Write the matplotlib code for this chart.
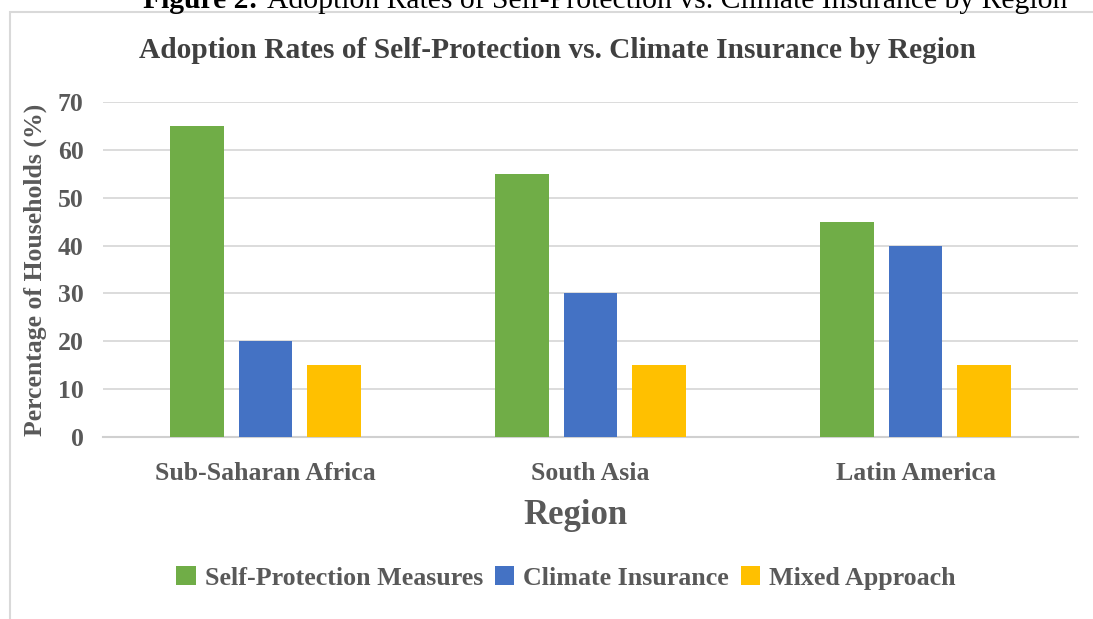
import matplotlib
matplotlib.use("Agg")
import matplotlib.pyplot as plt
from matplotlib.patches import Rectangle
import numpy as np

regions = ["Sub-Saharan Africa", "South Asia", "Latin America"]
series_names = ["Self-Protection Measures", "Climate Insurance", "Mixed Approach"]
self_protection = [65, 55, 45]
climate_insurance = [20, 30, 40]
mixed_approach = [15, 15, 15]
yticks = [0, 10, 20, 30, 40, 50, 60, 70]

COLORS = ["#70AD47", "#4472C4", "#FFC000"]
TXT = "#595959"
SERIF = "Liberation Serif"

W, H = 1093, 619
fig = plt.figure(figsize=(W / 100, H / 100), dpi=100)
fig.patch.set_facecolor("white")

# chart frame (screenshot of an embedded chart)
fig.patches.append(Rectangle((10 / W, -0.1), 1.2, 1 - 12 / H + 0.1,
                             transform=fig.transFigure, fill=False,
                             edgecolor="#d9d9d9", linewidth=1.5))

# document caption, cut off by the top edge as in the screenshot
fx, fy = 143 / W, 1 - 8.5 / H
t1 = fig.text(fx, fy, "Figure 2:", fontfamily=SERIF, fontweight="bold",
              fontsize=21.3, color="black", va="baseline", ha="left")
r = fig.canvas.get_renderer()
bb = t1.get_window_extent(r)
fig.text((bb.x1 + 9) / W, fy, "Adoption Rates of Self-Protection vs. Climate Insurance by Region",
         fontfamily=SERIF, fontsize=21.3, color="black", va="baseline", ha="left")

ax = fig.add_axes([103 / W, 1 - 437 / H, (1078 - 103) / W, (437 - 102) / H])
x = np.arange(len(regions))
w = 0.166
step = 0.21
for i, (vals, c, name) in enumerate(zip([self_protection, climate_insurance, mixed_approach],
                                        COLORS, series_names)):
    ax.bar(x + (i - 1) * step, vals, w, color=c, label=name, zorder=3)

ax.set_xlim(-0.5, len(regions) - 0.5)
ax.set_ylim(0, 70)
ax.set_yticks(yticks)
ax.set_xticks(x)
ax.set_xticklabels(regions)
ax.grid(axis="y", color="#d9d9d9", linewidth=1.3, zorder=0)
for s in ["top", "right", "left"]:
    ax.spines[s].set_visible(False)
ax.spines["bottom"].set_color("#d0d0d0")
ax.spines["bottom"].set_linewidth(1.5)
ax.tick_params(length=0)
ax.tick_params(axis="y", pad=14)
ax.tick_params(axis="x", pad=18)
for lab in ax.get_xticklabels() + ax.get_yticklabels():
    lab.set_fontfamily(SERIF)
    lab.set_fontweight("bold")
    lab.set_fontsize(18.5)
    lab.set_color(TXT)

ax.set_ylabel("Percentage of Households (%)", fontfamily=SERIF, fontweight="bold",
              fontsize=18.5, color=TXT, labelpad=8)
ax.set_xlabel("Region", fontfamily=SERIF, fontweight="bold", fontsize=25,
              color=TXT)
ax.xaxis.set_label_coords((575 - 103) / 975, -(515 - 437) / 335)
ax.xaxis.label.set_va("center")

fig.text(557 / W, 1 - 50 / H, "Adoption Rates of Self-Protection vs. Climate Insurance by Region",
         fontfamily=SERIF, fontweight="bold", fontsize=21.2, color="#404040",
         ha="center", va="center")

fig.legend(loc="center", bbox_to_anchor=(566 / W, 1 - 578 / H), ncol=3,
           frameon=False, handlelength=0.75, handleheight=0.75, handletextpad=0.35,
           columnspacing=0.45,
           prop={"family": SERIF, "weight": "bold", "size": 18.7}, labelcolor=TXT)

fig.savefig("out.png", dpi=100, facecolor="white")
